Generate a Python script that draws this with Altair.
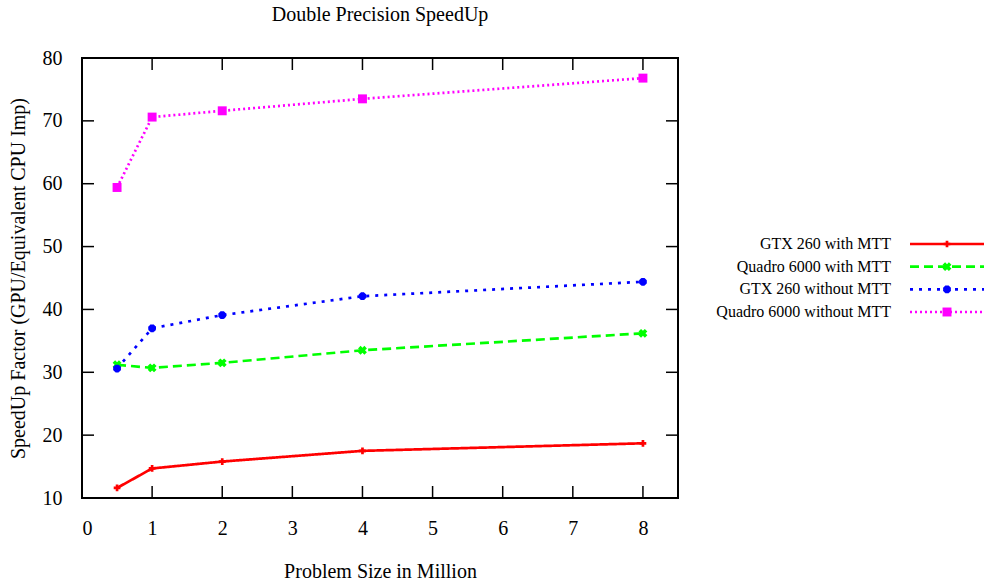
import altair as alt
import pandas as pd

# ---- data ----
problem_size = [0.5, 1, 2, 4, 8]
series_names = ["GTX 260 with MTT", "Quadro 6000 with MTT",
                "GTX 260 without MTT", "Quadro 6000 without MTT"]
gtx_mtt = [11.6, 14.7, 15.8, 17.5, 18.7]
quadro_mtt = [31.2, 30.7, 31.5, 33.5, 36.2]
gtx_nomtt = [30.6, 37.0, 39.1, 42.1, 44.4]
quadro_nomtt = [59.4, 70.6, 71.6, 73.5, 76.8]
x_ticks = [0, 1, 2, 3, 4, 5, 6, 7, 8]
y_ticks = [10, 20, 30, 40, 50, 60, 70, 80]

series_values = [gtx_mtt, quadro_mtt, gtx_nomtt, quadro_nomtt]

# ---- styles ----
colors = ["#ff0000", "#00ff00", "#0000ff", "#ff00ff"]
dashes = [[1, 0], [9, 5], [3, 6], [2, 3]]
markers = [
    [("cross", 0, 45)],
    [("cross", 45, 80)],
    [("cross", 0, 60), ("cross", 45, 60)],
    [("square", 0, 80)],
]

W, H = 596, 440
FONT = "Liberation Serif"

xscale = alt.Scale(domain=[0, 8.5], nice=False, zero=False)
yscale = alt.Scale(domain=[10, 80], nice=False, zero=False)
xaxis = alt.Axis(values=x_ticks, title="Problem Size in Million", labelPadding=20,
                 titlePadding=23, format="d")
yaxis = alt.Axis(values=y_ticks, title="SpeedUp Factor (GPU/Equivalent CPU Imp)",
                 labelPadding=20, titlePadding=14, format="d")


def X(field):
    return alt.X(field, type="quantitative", scale=xscale, axis=xaxis)


def Y(field):
    return alt.Y(field, type="quantitative", scale=yscale, axis=yaxis)


plot_layers = []
legend_layers = []

for i, name in enumerate(series_names):
    df = pd.DataFrame({"x": problem_size, "y": series_values[i], "series": name})
    plot_layers.append(
        alt.Chart(df).mark_line(color=colors[i], strokeWidth=2.7,
                                strokeDash=dashes[i], clip=False)
        .encode(x=X("x"), y=Y("y"))
    )
    for shape, ang, size in markers[i]:
        plot_layers.append(
            alt.Chart(df).mark_point(shape=shape, angle=ang, size=size, filled=True,
                                     color=colors[i], opacity=1)
            .encode(x=X("x"), y=Y("y"))
        )
    ldf = pd.DataFrame({"series": [name]})
    ly = alt.Y("series:N", scale=alt.Scale(type="point", domain=series_names,
                                           range=[186, 254], padding=0), axis=None)
    legend_layers.append(
        alt.Chart(ldf).mark_rule(color=colors[i], strokeWidth=2.7, strokeDash=dashes[i])
        .encode(x=alt.value(828), x2=alt.value(915), y=ly)
    )
    for shape, ang, size in markers[i]:
        legend_layers.append(
            alt.Chart(ldf).mark_point(shape=shape, angle=ang, size=size, filled=True,
                                      color=colors[i], opacity=1)
            .encode(x=alt.value(865), y=ly)
        )
    legend_layers.append(
        alt.Chart(ldf).mark_text(align="right", baseline="middle", font=FONT,
                                 fontSize=16, color="black")
        .encode(x=alt.value(809), y=ly, text="series:N")
    )

# inward tick marks on all four sides
xt = pd.DataFrame({"t": x_ticks})
yt = pd.DataFrame({"t": y_ticks})
tick_len = 12
plot_layers += [
    alt.Chart(xt).mark_rule(color="black", strokeWidth=1.5)
    .encode(x=X("t"), y=alt.value(H), y2=alt.value(H - tick_len)),
    alt.Chart(xt).mark_rule(color="black", strokeWidth=1.5)
    .encode(x=X("t"), y=alt.value(0), y2=alt.value(tick_len)),
    alt.Chart(yt).mark_rule(color="black", strokeWidth=1.5)
    .encode(y=Y("t"), x=alt.value(0), x2=alt.value(tick_len)),
    alt.Chart(yt).mark_rule(color="black", strokeWidth=1.5)
    .encode(y=Y("t"), x=alt.value(W), x2=alt.value(W - tick_len)),
]

plot = alt.layer(*plot_layers)
legend = alt.layer(*legend_layers)

chart = (
    alt.layer(plot, legend)
    .resolve_scale(y="independent")
    .properties(
        width=W, height=H,
        autosize=alt.AutoSizeParams(type="none"),
        padding={"left": 82, "top": 58, "right": 306, "bottom": 85},
        title=alt.TitleParams("Double Precision SpeedUp", font=FONT, fontSize=20,
                              fontWeight="normal", color="black", anchor="middle",
                              baseline="alphabetic", offset=27, dy=20),
        background="white",
    )
    .configure_view(stroke="black", strokeWidth=2)
    .configure_axis(labelFont=FONT, labelFontSize=20, labelColor="black",
                    titleFont=FONT, titleFontSize=20, titleFontWeight="normal",
                    titleColor="black", ticks=False, domain=False, grid=False)
)

chart.save("out.html", embed_options={"renderer": "svg", "actions": False})
